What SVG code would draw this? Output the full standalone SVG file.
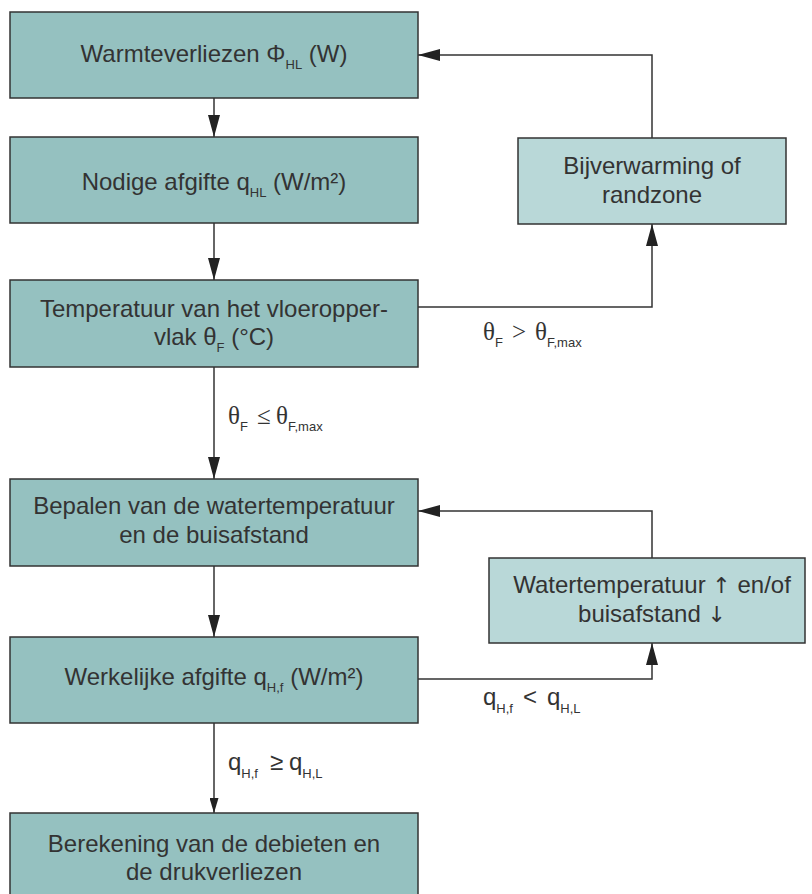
<svg xmlns="http://www.w3.org/2000/svg" width="812" height="894" viewBox="0 0 812 894">
<style>
.box{fill:#95c1c0;stroke:#333;stroke-width:1.5}
.lbox{fill:#b9d8d8;stroke:#333;stroke-width:1.5}
.t{font-family:"Liberation Sans",Arial,sans-serif;font-size:24px;fill:#333;text-anchor:middle}
.sub{font-size:13px}
.ar{font-family:"DejaVu Sans",sans-serif;font-size:22px}
.lab{font-family:"Liberation Sans",Arial,sans-serif;font-size:24px;fill:#333}
.ser{font-family:"Liberation Serif","Times New Roman",serif;font-size:25px}
.ln{fill:none;stroke:#333;stroke-width:1.5}
.ah{fill:#222}
</style>
<defs>
<marker id="arr" viewBox="0 0 22 12" refX="22" refY="6" markerWidth="22" markerHeight="12" markerUnits="userSpaceOnUse" orient="auto">
<path class="ah" d="M0,0 L22,6 L0,12 Z"/>
</marker>
<marker id="arrs" viewBox="0 0 15 9" refX="15" refY="4.5" markerWidth="15" markerHeight="9" markerUnits="userSpaceOnUse" orient="auto">
<path class="ah" d="M0,0 L15,4.5 L0,9 Z"/>
</marker>
</defs>
<g id="connectors">
<path class="ln" d="M214,98 L214,137" marker-end="url(#arr)"/>
<path class="ln" d="M214,223 L214,280" marker-end="url(#arr)"/>
<path class="ln" d="M418,307 L652,307 L652,224" marker-end="url(#arr)"/>
<path class="ln" d="M652,138 L652,55 L418,55" marker-end="url(#arr)"/>
<path class="ln" d="M214,367 L214,479" marker-end="url(#arr)"/>
<path class="ln" d="M214,566 L214,637" marker-end="url(#arr)"/>
<path class="ln" d="M418,679 L652,679 L652,643" marker-end="url(#arr)"/>
<path class="ln" d="M652,558 L652,511 L418,511" marker-end="url(#arr)"/>
<path class="ln" d="M214,723 L214,813" marker-end="url(#arrs)"/>
<text class="lab" x="483" y="340"><tspan class="ser">θ</tspan><tspan class="sub" dy="7">F</tspan><tspan class="ser" dy="-7" x="512">&gt;</tspan><tspan class="ser" x="535">θ</tspan><tspan class="sub" dy="7">F,max</tspan></text>
<text class="lab" x="228" y="424"><tspan class="ser">θ</tspan><tspan class="sub" dy="7">F</tspan><tspan class="ser" dy="-7" x="257">≤</tspan><tspan class="ser" x="276">θ</tspan><tspan class="sub" dy="7">F,max</tspan></text>
<text class="lab" x="483" y="705">q<tspan class="sub" dy="8">H,f</tspan><tspan dy="-8" x="523">&lt;</tspan><tspan x="547">q</tspan><tspan class="sub" dy="8">H,L</tspan></text>
<text class="lab" x="228" y="770">q<tspan class="sub" dy="8">H,f</tspan><tspan dy="-8" x="270">≥</tspan><tspan x="289">q</tspan><tspan class="sub" dy="8">H,L</tspan></text>
</g>
<g id="n1">
<rect class="box" x="10" y="12" width="408" height="86"/>
<text class="t" x="214" y="62">Warmteverliezen Φ<tspan class="sub" dy="7">HL</tspan><tspan dy="-7"> (W)</tspan></text>
</g>
<g id="n2">
<rect class="box" x="10" y="137" width="408" height="86"/>
<text class="t" x="214" y="190">Nodige afgifte q<tspan class="sub" dy="7">HL</tspan><tspan dy="-7"> (W/m²)</tspan></text>
</g>
<g id="n3">
<rect class="box" x="10" y="280" width="408" height="87"/>
<text class="t" x="214" y="317">Temperatuur van het vloeropper-</text>
<text class="t" x="214" y="345">vlak θ<tspan class="sub" dy="7">F</tspan><tspan dy="-7"> (°C)</tspan></text>
</g>
<g id="nA">
<rect class="lbox" x="518" y="138" width="268" height="86"/>
<text class="t" x="652" y="174">Bijverwarming of</text>
<text class="t" x="652" y="203">randzone</text>
</g>
<g id="n4">
<rect class="box" x="10" y="479" width="408" height="87"/>
<text class="t" x="214" y="514">Bepalen van de watertemperatuur</text>
<text class="t" x="214" y="543">en de buisafstand</text>
</g>
<g id="nB">
<rect class="lbox" x="489" y="558" width="316" height="85"/>
<text class="t" x="652" y="593">Watertemperatuur <tspan class="ar">↑</tspan> en/of</text>
<text class="t" x="652" y="622">buisafstand <tspan class="ar">↓</tspan></text>
</g>
<g id="n5">
<rect class="box" x="10" y="637" width="408" height="86"/>
<text class="t" x="214" y="685">Werkelijke afgifte q<tspan class="sub" dy="7">H,f</tspan><tspan dy="-7"> (W/m²)</tspan></text>
</g>
<g id="n6">
<rect class="box" x="10" y="813" width="408" height="90"/>
<text class="t" x="214" y="852">Berekening van de debieten en</text>
<text class="t" x="214" y="880">de drukverliezen</text>
</g>
</svg>
